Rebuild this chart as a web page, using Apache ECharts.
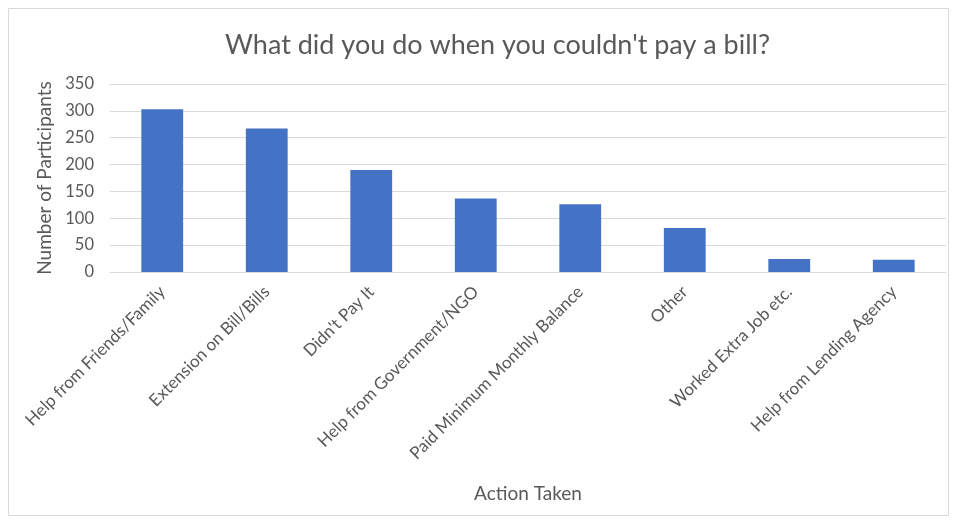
<!DOCTYPE html>
<html>
<head>
<meta charset="utf-8">
<script src="https://cdn.jsdelivr.net/npm/echarts@6/dist/echarts.min.js"></script>
<style>
  html, body { margin: 0; padding: 0; background: #fff; }
  #chart { width: 957px; height: 522px; }
</style>
</head>
<body>
<div id="chart"></div>
<script>
// Responses to "What did you do when you couldn't pay a bill?"
const actions = [
  'Help from Friends/Family',
  'Extension on Bill/Bills',
  "Didn't Pay It",
  'Help from Government/NGO',
  'Paid Minimum Monthly Balance',
  'Other',
  'Worked Extra Job etc.',
  'Help from Lending Agency'
];
const participants = [303, 267, 190, 137, 126, 82, 24, 23];
const yTicks = [0, 50, 100, 150, 200, 250, 300, 350];

const FONT = 'Lato, "Open Sans", sans-serif';
const TEXT = '#595959';
const GRID = '#d9d9d9';

const chart = echarts.init(document.getElementById('chart'));
chart.setOption({
  animation: false,
  title: {
    text: "What did you do when you couldn't pay a bill?",
    left: 220,
    top: 27,
    textStyle: { fontFamily: FONT, fontSize: 27, fontWeight: 'normal', color: TEXT }
  },
  graphic: [{
    type: 'rect',
    shape: { x: 8.5, y: 8.5, width: 940, height: 507 },
    style: { fill: 'none', stroke: GRID, lineWidth: 1 },
    silent: true
  }],
  grid: { left: 110, right: 11, top: 84, bottom: 250, containLabel: false },
  xAxis: {
    type: 'category',
    data: actions,
    name: 'Action Taken',
    nameLocation: 'middle',
    nameGap: 212,
    nameTextStyle: { fontFamily: FONT, fontSize: 19, color: TEXT },
    axisLine: { lineStyle: { color: GRID } },
    axisTick: { show: false },
    axisLabel: { rotate: 45, fontFamily: FONT, fontSize: 17, color: TEXT, margin: 17, interval: 0 }
  },
  yAxis: {
    type: 'value',
    min: yTicks[0],
    max: yTicks[yTicks.length - 1],
    interval: yTicks[1] - yTicks[0],
    name: 'Number of Participants',
    nameLocation: 'middle',
    nameGap: 54,
    nameTextStyle: { fontFamily: FONT, fontSize: 19, color: TEXT },
    axisLine: { show: false },
    axisTick: { show: false },
    axisLabel: { fontFamily: FONT, fontSize: 16.5, color: TEXT, margin: 16 },
    splitLine: { lineStyle: { color: GRID, width: 1 } }
  },
  series: [{
    type: 'bar',
    data: participants,
    barWidth: '40%',
    itemStyle: { color: '#4472C4' }
  }]
});
</script>
</body>
</html>
